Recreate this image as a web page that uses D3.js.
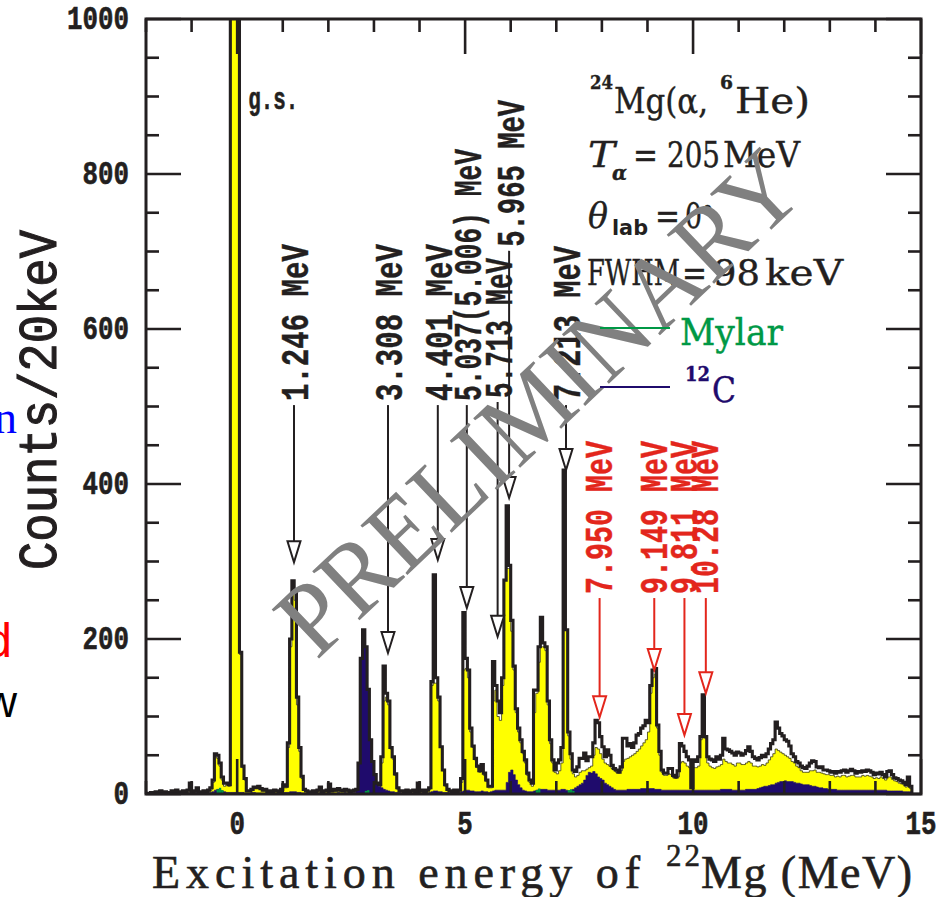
<!DOCTYPE html>
<html><head><meta charset="utf-8">
<script src="https://cdn.jsdelivr.net/npm/d3@7"></script>
<style>body{margin:0;background:#fff;} svg{display:block;}</style>
</head><body>
<svg id="chart" width="945" height="897"></svg>
<script>
// ---------------- data ----------------
const binStart = -2.0;   // MeV, first bin low edge
const binWidth = 0.05;   // MeV

// total spectrum (black line), one row per MeV
const totalCounts = [
  0,1,2,1,3,2,4,2,3,1,2,4,3,5,2,3,4,2,5,14,
  3,4,8,3,2,4,3,5,8,18,52,50,40,22,14,14,12,1400,3000,3000,
  1500,183,36,20,4,4,6,9,8,10,7,5,6,3,4,3,5,4,3,6,
  12,10,66,200,275,260,125,60,23,6,4,3,2,4,3,5,9,3,4,5,
  13,4,6,5,7,5,4,6,5,3,4,5,6,40,175,212,190,135,70,42,
  25,14,12,48,165,130,120,60,48,26,8,4,4,3,5,3,4,5,3,14,
  4,5,3,5,8,145,283,150,125,61,31,12,6,4,3,5,3,5,20,234,
  175,160,85,62,46,36,30,38,27,18,10,10,171,140,120,105,150,276,372,295,
  224,165,110,85,70,55,44,27,18,14,134,134,190,228,195,190,120,70,44,31,
  40,44,60,418,212,80,52,31,29,35,46,46,53,43,48,48,66,95,92,74,
  61,48,57,50,37,33,31,28,35,72,72,62,65,60,66,76,78,85,88,95,
  92,140,160,162,89,55,31,27,27,33,33,24,22,30,65,62,55,48,44,8,
  44,42,48,74,128,74,48,45,44,42,48,45,50,72,58,57,55,53,50,54,
  53,50,52,56,61,55,48,46,44,47,50,48,52,58,65,70,93,85,78,75,
  70,68,62,52,48,42,40,36,34,33,36,40,43,42,35,34,35,31,31,30,
  28,29,27,29,28,30,31,28,30,32,30,27,29,28,30,29,31,30,28,25,
  27,26,28,25,22,29,30,25,21,20,18,17,15,12,22,10
];

// yellow filled spectrum
const yellowCounts = [
  0,0,1,0,1,1,2,1,1,0,1,2,1,2,1,1,2,1,2,4,
  2,2,3,2,1,2,2,3,5,15,48,46,36,18,10,12,10,1400,3000,3000,
  1500,180,34,18,3,3,5,8,7,8,6,4,4,2,3,2,3,3,2,4,
  8,8,60,190,265,250,115,55,20,5,3,2,1,3,2,3,5,2,3,3,
  6,3,4,3,5,3,3,4,3,2,3,3,4,5,4,3,3,3,4,3,
  4,5,6,40,120,125,115,58,45,24,6,3,3,2,3,2,3,3,2,5,
  3,4,2,4,6,140,143,143,120,60,30,10,4,3,2,3,2,4,15,160,
  162,150,80,60,44,34,28,30,24,16,8,8,120,134,100,95,140,276,291,291,
  210,160,105,80,66,52,40,24,15,10,105,130,170,190,190,185,115,65,40,28,
  26,30,40,212,212,75,45,26,22,24,28,30,30,32,34,36,50,60,58,52,
  45,40,38,36,33,30,28,27,30,42,45,46,48,50,52,55,58,62,66,70,
  80,130,150,155,85,50,28,24,24,26,25,21,20,22,40,42,40,36,34,30,
  34,34,36,70,74,72,40,36,34,33,35,36,38,45,42,40,40,38,36,40,
  40,38,38,40,42,40,36,36,35,36,38,37,40,44,48,52,58,56,54,52,
  50,48,46,42,40,36,34,30,28,28,28,30,30,31,28,28,27,26,25,25,
  24,24,22,23,22,24,24,22,23,24,24,22,22,22,24,23,24,23,22,20,
  21,20,22,20,18,22,22,19,17,16,14,13,12,9,10,7
];

// 12C background (navy)
const carbonCounts = [
  0,0,0,0,0,1,0,0,1,0,0,1,0,0,1,0,0,1,0,2,
  1,1,2,1,1,1,1,2,2,3,5,6,5,4,3,2,2,2,2,2,
  2,2,2,1,1,1,2,2,1,1,1,1,1,1,1,1,1,1,1,2,
  2,2,2,3,3,3,2,2,1,1,1,1,1,1,1,1,2,1,1,1,
  2,1,1,1,2,1,1,2,1,1,2,2,4,40,175,212,190,135,70,42,
  25,14,10,8,6,5,4,3,3,2,2,2,1,1,2,1,1,2,1,2,
  1,2,1,1,2,3,4,4,3,3,2,2,2,1,1,2,1,2,3,4,
  5,5,4,4,3,3,3,4,3,3,2,3,4,5,5,5,5,5,15,28,
  31,25,18,12,8,5,4,3,3,3,4,5,6,6,6,6,5,5,5,5,
  5,5,6,6,5,4,5,6,8,10,12,14,18,24,28,27,29,26,22,20,
  18,14,12,10,8,6,5,5,5,5,5,6,6,6,6,6,6,7,7,7,
  7,7,7,6,6,6,5,5,5,5,5,5,5,5,5,5,5,5,5,5,
  5,5,5,5,5,5,5,5,5,5,5,5,6,6,6,6,6,5,5,5,
  5,5,5,6,6,6,6,6,7,8,9,10,10,11,12,12,14,15,16,16,
  17,16,16,16,15,14,14,13,12,12,12,11,10,10,9,8,8,7,7,6,
  6,6,6,5,5,5,5,5,5,5,5,5,5,5,5,5,5,5,5,5,
  5,5,5,5,5,4,4,4,4,4,4,4,3,3,3,3
];

// Mylar background (green), sparse bins [energy, counts]
const mylarBins = [[-0.45,6],[-0.4,8],[-0.35,5],[2.8,4],[2.85,5],[6.55,5],[6.6,7],[7.25,5],[7.3,6],[7.35,4]];

const xTickValues = [0, 5, 10, 15];
const xTickLabels = ["0", "5", "10", "15"];
const yTickValues = [0, 200, 400, 600, 800, 1000];
const yTickLabels = ["0", "200", "400", "600", "800", "1000"];

// known levels (black)
const levelNames    = ["1.246 MeV","3.308 MeV","4.401 MeV","5.037(5.006) MeV","5.713 MeV","5.965 MeV","7.213 MeV"];
const levelEnergies = [1.246, 3.308, 4.401, 5.037, 5.713, 5.965, 7.213];
const levelTips     = [299, 182, 302, 240, 203, 382, 418];
const levelBase     = [507, 507, 507, 507, 511, 706, 507];
// new levels (red)
const newNames    = ["7.950 MeV","9.149 MeV","9.811 MeV","10.28 MeV"];
const newEnergies = [7.950, 9.149, 9.811, 10.28];
const newTips     = [99, 160, 76, 130];
const newBase     = [258, 258, 258, 258];

// ---------------- drawing ----------------
const svg = d3.select("#chart");
const L = 146, R = 921, T = 19, B = 794;
const x = d3.scaleLinear().domain([-2, 15]).range([L, R]);
const y = d3.scaleLinear().domain([0, 1000]).range([B, T]);

const INK = "#231f20";
const NAVY = "#1f0b6c";
const GREEN = "#009845";
const RED = "#e3261c";

svg.append("defs").append("clipPath").attr("id", "plotclip")
  .append("rect").attr("x", L).attr("y", T).attr("width", R - L).attr("height", B - T);

function histPoints(vals) {
  const pts = vals.map((v, i) => [binStart + i * binWidth, v]);
  pts.push([binStart + vals.length * binWidth, vals[vals.length - 1]]);
  return pts;
}
const area = d3.area().curve(d3.curveStepAfter)
  .x(d => x(d[0])).y0(y(0)).y1(d => y(d[1]));
const line = d3.line().curve(d3.curveStepAfter)
  .x(d => x(d[0])).y(d => y(d[1]));

const plot = svg.append("g").attr("clip-path", "url(#plotclip)");

plot.append("path").datum(histPoints(yellowCounts))
  .attr("d", area).attr("fill", "#ffff00").attr("stroke", "#3a3a10").attr("stroke-width", 0.8);

plot.append("path").datum(histPoints(carbonCounts))
  .attr("d", area).attr("fill", NAVY).attr("stroke", NAVY).attr("stroke-width", 0.6);

plot.selectAll("rect.mylar").data(mylarBins).join("rect")
  .attr("class", "mylar")
  .attr("x", d => x(d[0])).attr("width", x(binWidth) - x(0))
  .attr("y", d => y(d[1])).attr("height", d => y(0) - y(d[1]))
  .attr("fill", GREEN);

const totPts = histPoints(totalCounts);
totPts.unshift([binStart, 0]);
totPts.push([binStart + totalCounts.length * binWidth, 0]);
plot.append("path").datum(totPts)
  .attr("d", line).attr("fill", "none").attr("stroke", INK)
  .attr("stroke-width", 3.1).attr("stroke-linejoin", "miter");

// frame + ticks
const axes = svg.append("g").attr("stroke", INK).attr("fill", "none");
axes.append("rect").attr("x", L).attr("y", T).attr("width", R - L).attr("height", B - T)
  .attr("stroke-width", 3);
const MAJ = 35, MIN = 13;
x.ticks(17).forEach(t => {
  const len = xTickValues.includes(t) ? MAJ : MIN;
  axes.append("line").attr("x1", x(t)).attr("x2", x(t)).attr("y1", T).attr("y2", T + len).attr("stroke-width", 2.6);
  axes.append("line").attr("x1", x(t)).attr("x2", x(t)).attr("y1", B).attr("y2", B - len).attr("stroke-width", 2.6);
});
y.ticks(25).forEach(t => {
  const len = yTickValues.includes(t) ? MAJ : MIN;
  axes.append("line").attr("x1", L).attr("x2", L + len).attr("y1", y(t)).attr("y2", y(t)).attr("stroke-width", 2.6);
  axes.append("line").attr("x1", R).attr("x2", R - len).attr("y1", y(t)).attr("y2", y(t)).attr("stroke-width", 2.6);
});

// tick labels
const tickFont = "'Liberation Mono', 'Courier New', monospace";
yTickValues.forEach((t, i) => {
  svg.append("text").attr("x", 129).attr("y", y(t) + 10)
    .attr("text-anchor", "end").attr("font-family", tickFont).attr("font-weight", "bold")
    .attr("font-size", 33).attr("fill", INK).attr("stroke", INK).attr("stroke-width", 0.6)
    .attr("textLength", yTickLabels[i].length * 15.5).attr("lengthAdjust", "spacingAndGlyphs")
    .text(yTickLabels[i]);
});
xTickValues.forEach((t, i) => {
  svg.append("text").attr("x", x(t)).attr("y", 834)
    .attr("text-anchor", "middle").attr("font-family", tickFont).attr("font-weight", "bold")
    .attr("font-size", 33).attr("fill", INK).attr("stroke", INK).attr("stroke-width", 0.6)
    .attr("textLength", xTickLabels[i].length * 15.5).attr("lengthAdjust", "spacingAndGlyphs")
    .text(xTickLabels[i]);
});

// axis titles
svg.append("text")
  .attr("transform", "translate(56,400) rotate(-90)")
  .attr("text-anchor", "middle").attr("font-family", tickFont)
  .attr("font-size", 54).attr("fill", INK).attr("stroke", INK).attr("stroke-width", 1.1)
  .attr("textLength", 340).attr("lengthAdjust", "spacingAndGlyphs")
  .text("Counts/20keV");

const serif = "'Liberation Serif', 'Times New Roman', serif";
svg.append("text").attr("x", 152).attr("y", 888)
  .attr("font-family", serif).attr("font-size", 46).attr("fill", INK)
  .attr("stroke", INK).attr("stroke-width", 0.6)
  .attr("textLength", 488).attr("lengthAdjust", "spacing")
  .text("Excitation energy of");
svg.append("text").attr("x", 666).attr("y", 866)
  .attr("font-family", serif).attr("font-size", 31).attr("fill", INK)
  .attr("stroke", INK).attr("stroke-width", 0.5)
  .attr("textLength", 34).attr("lengthAdjust", "spacing")
  .text("22");
svg.append("text").attr("x", 701).attr("y", 888)
  .attr("font-family", serif).attr("font-size", 46).attr("fill", INK)
  .attr("stroke", INK).attr("stroke-width", 0.6)
  .attr("textLength", 211).attr("lengthAdjust", "spacing")
  .text("Mg (MeV)");

// level annotations
const annFont = "'Liberation Mono', 'Courier New', monospace";
const HEAD_H = 21, HEAD_W = 6.5;
function vlabel(txt, cx, ybase, color, len) {
  svg.append("text")
    .attr("transform", `translate(${cx},${ybase}) rotate(-90)`)
    .attr("dy", "0.3em")
    .attr("font-family", annFont).attr("font-weight", "bold")
    .attr("font-size", 38).attr("fill", color).attr("stroke", color).attr("stroke-width", 0.4)
    .attr("textLength", len).attr("lengthAdjust", "spacingAndGlyphs")
    .text(txt);
}
function arrow(xe, yTop, yTip, color) {
  const g = svg.append("g").attr("stroke", color).attr("stroke-width", 2);
  g.append("line").attr("x1", xe).attr("x2", xe).attr("y1", yTop).attr("y2", yTip - HEAD_H);
  g.append("path")
    .attr("d", `M${xe},${yTip}L${xe - HEAD_W},${yTip - HEAD_H}L${xe + HEAD_W},${yTip - HEAD_H}Z`)
    .attr("fill", "#fff");
}
const levelLens = [157, 157, 157, 252, 140, 147, 155];
levelNames.forEach((n, i) => {
  const xe = x(levelEnergies[i]);
  vlabel(n, xe + 3, y(levelBase[i]), INK, levelLens[i]);
  arrow(xe, y(levelBase[i]) + 4, y(levelTips[i]), INK);
});
newNames.forEach((n, i) => {
  const xe = x(newEnergies[i]);
  vlabel(n, xe + 1, y(newBase[i]), RED, 153);
  arrow(xe, y(newBase[i]) + 4, y(newTips[i]), RED);
});

svg.append("text").attr("x", x(0) + 11).attr("y", 109)
  .attr("font-family", annFont).attr("font-weight", "bold").attr("font-size", 32).attr("fill", INK)
  .attr("stroke", INK).attr("stroke-width", 0.6)
  .attr("textLength", 50).attr("lengthAdjust", "spacingAndGlyphs").text("g.s.");

// reaction info block
const infoFont = "'DejaVu Serif', 'Liberation Serif', serif";
function t(str, xx, yy, size, len, opts = {}) {
  const el = svg.append("text").attr("x", xx).attr("y", yy)
    .attr("font-family", opts.family || infoFont).attr("font-size", size)
    .attr("fill", opts.color || INK)
    .attr("stroke", opts.color || INK).attr("stroke-width", opts.sw === undefined ? 0.4 : opts.sw)
    .attr("font-style", opts.italic ? "italic" : "normal")
    .attr("font-weight", opts.bold ? "bold" : "normal")
    .text(str);
  if (len) el.attr("textLength", len).attr("lengthAdjust", "spacingAndGlyphs");
  return el;
}
t("24", 590, 89, 19, 23, {bold: true});
t("Mg(α,", 614, 113, 36, 94);
t("6", 720, 89, 19, 13, {bold: true});
t("He)", 735, 113, 36, 75);

t("T", 588, 167, 36, 27, {italic: true});
t("α", 612, 180, 20, 15, {italic: true, bold: true});
t("=", 633, 167, 36, 25);
t("205", 667, 167, 36, 53);
t("MeV", 723, 167, 36, 77);

t("θ", 588, 228, 36, 20, {italic: true});
t("lab", 612, 235, 21, 36, {bold: true, family: "'DejaVu Sans', sans-serif", sw: 0});
t("=", 655, 228, 36, 25);
t("0", 685, 228, 36, 17);
t("°", 702, 222, 22, 11);

t("FWHM", 587, 285, 36, 93);
t("=", 682, 285, 36, 25);
t("98", 713, 285, 36, 47);
t("keV", 765, 285, 36, 78);

// watermark
svg.append("text")
  .attr("transform", "translate(538,402) rotate(-43.5)")
  .attr("text-anchor", "middle").attr("dominant-baseline", "central")
  .attr("font-family", serif).attr("font-size", 104).attr("fill", "#808080")
  .attr("textLength", 678).attr("lengthAdjust", "spacingAndGlyphs")
  .text("PRELIMINARY");

// legend
svg.append("line").attr("x1", 600).attr("x2", 670).attr("y1", 328).attr("y2", 328)
  .attr("stroke", GREEN).attr("stroke-width", 2);
t("Mylar", 680, 345, 38, 103, {color: GREEN});
svg.append("line").attr("x1", 600).attr("x2", 670).attr("y1", 387).attr("y2", 387)
  .attr("stroke", NAVY).attr("stroke-width", 2);
t("12", 685, 381, 20, 25, {color: NAVY, bold: true});
t("C", 712, 402, 36, 24, {color: NAVY});

// cut-off legend fragments at left edge
svg.append("text").attr("x", 17).attr("y", 433).attr("text-anchor", "end")
  .attr("font-family", serif).attr("font-size", 46).attr("fill", "#0000ff").text("n");
svg.append("text").attr("x", 12).attr("y", 657).attr("text-anchor", "end")
  .attr("font-family", "'Liberation Sans', Arial, sans-serif").attr("font-size", 48).attr("fill", "#ff0000").text("d");
svg.append("text").attr("x", 17).attr("y", 717).attr("text-anchor", "end")
  .attr("font-family", "'Liberation Sans', Arial, sans-serif").attr("font-size", 44).attr("fill", "#000").text("w");
</script>
</body></html>
